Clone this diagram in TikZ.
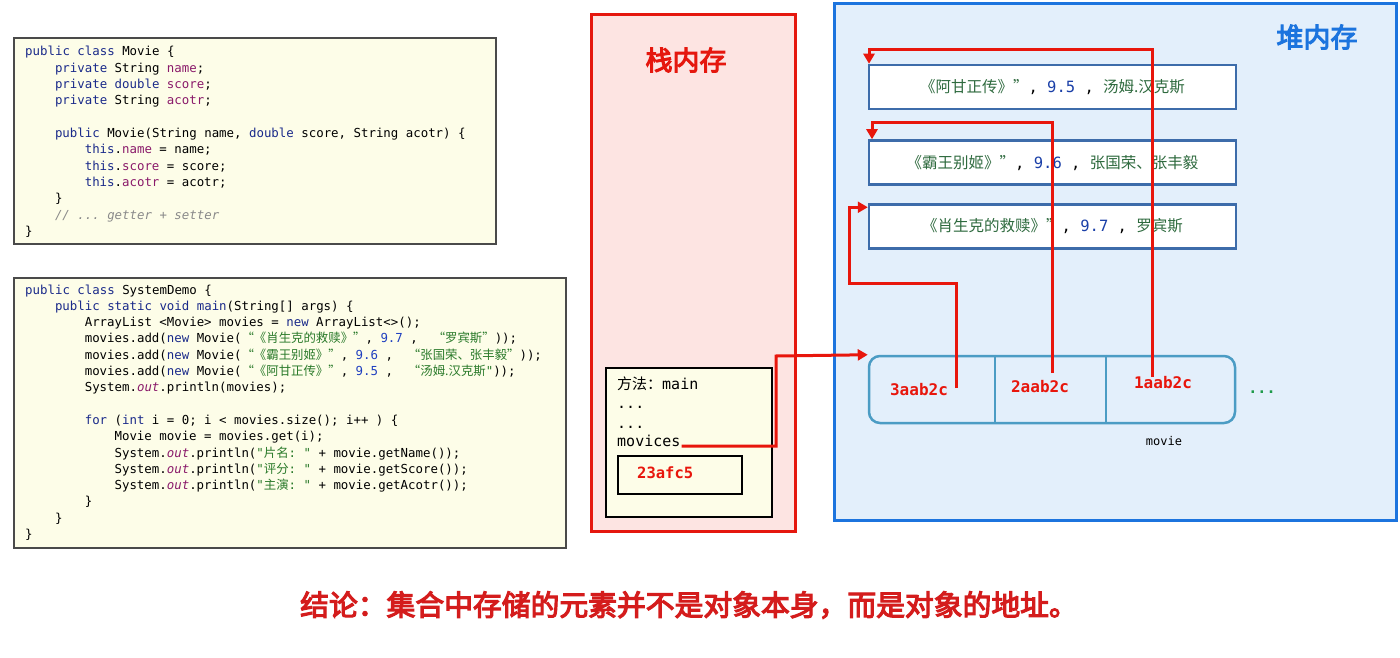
\documentclass[tikz,border=0pt]{standalone}
\usepackage{fontspec}
\setmonofont{DejaVu Sans Mono}
\newfontfamily\cjk{Noto Sans CJK SC}
\newfontfamily\cjkbold[FakeBold=4]{Noto Sans CJK SC}
\usetikzlibrary{arrows.meta}
\definecolor{kw}{HTML}{1A2A8A}
\definecolor{fld}{HTML}{8A1A6A}
\definecolor{str}{HTML}{2A7A2A}
\definecolor{num}{HTML}{1F3FC0}
\definecolor{cmt}{HTML}{8A8A8A}
\definecolor{codebg}{HTML}{FDFDE8}
\definecolor{codeframe}{HTML}{4A4A4A}
\definecolor{stackred}{HTML}{E5170E}
\definecolor{stackbg}{HTML}{FDE4E2}
\definecolor{heapblue}{HTML}{1C74DE}
\definecolor{heapbg}{HTML}{E3EFFB}
\definecolor{objblue}{HTML}{3D6CAA}
\definecolor{arrblue}{HTML}{4B9CC4}
\definecolor{heapgreen}{HTML}{2E6A3E}
\definecolor{numblue}{HTML}{1A3FA8}
\definecolor{dotgreen}{HTML}{1E9A4A}
\definecolor{concl}{HTML}{D41C1C}
\definecolor{refred}{HTML}{E8160C}
\newcommand\Kw[1]{\textcolor{kw}{#1}}
\newcommand\Fd[1]{\textcolor{fld}{#1}}
\newcommand\Sg[1]{\textcolor{str}{#1}}
\newcommand\Nm[1]{\textcolor{num}{#1}}
\newcommand\Cj[1]{{\cjk #1}}
\newcommand\Ot{\textcolor{fld}{\itshape out}}
\newcommand\Hg[1]{\textcolor{heapgreen}{\cjk #1}}
\newcommand\Hn[1]{\textcolor{numblue}{#1}}
\tikzset{
  code/.style={font=\ttfamily\fontsize{12.4}{15}\selectfont, inner sep=0pt, anchor=base west},
  codebox/.style={draw=codeframe, line width=1.2pt, fill=codebg},
  objbox/.style={draw=objblue, line width=2.5pt, fill=white, minimum width=367pt, minimum height=44pt, inner sep=0pt,
    font=\ttfamily\fontsize{15.5}{18}\selectfont},
  addr/.style={text=refred, font=\ttfamily\bfseries\fontsize{16}{18}\selectfont, inner sep=0pt},
  frametxt/.style={font=\ttfamily\fontsize{15}{18}\selectfont, inner sep=0pt, anchor=base west},
  ref/.style={draw=refred, line width=3pt, -{Triangle[length=10pt,width=11pt]}},
}
\begin{document}
\begin{tikzpicture}[x=1pt,y=-1pt]
\useasboundingbox (0,0) rectangle (1400,658);
\fill[white] (0,0) rectangle (1400,658);

% ---------- code box 1 ----------
\draw[codebox] (14,38) rectangle (496,244);
\node[code] (a1) at (25,56) {\Kw{public class} Movie \{};
\node[code] (a2) at (54.8,72.3) {\Kw{private} String \Fd{name};};
\node[code] (a3) at (54.8,88.6) {\Kw{private double} \Fd{score};};
\node[code] (a4) at (54.8,104.9) {\Kw{private} String \Fd{acotr};};
\node[code] (a5) at (54.8,137.5) {\Kw{public} Movie(String name, \Kw{double} score, String acotr) \{};
\node[code] (a6) at (84.6,153.8) {\Kw{this}.\Fd{name} = name;};
\node[code] (a7) at (84.6,170.1) {\Kw{this}.\Fd{score} = score;};
\node[code] (a8) at (84.6,186.4) {\Kw{this}.\Fd{acotr} = acotr;};
\node[code] (a9) at (54.8,202.7) {\}};
\node[code] (a10) at (54.8,219) {\textcolor{cmt}{\itshape // ... getter + setter}};
\node[code] (a11) at (25,235.3) {\}};

% ---------- code box 2 ----------
\draw[codebox] (14,278) rectangle (566,548);
\node[code] (b1) at (25,294) {\Kw{public class} SystemDemo \{};
\node[code] (b2) at (54.8,310.3) {\Kw{public static void main}(String[] args) \{};
\node[code] (b3) at (84.6,326.6) {ArrayList <Movie> movies = \Kw{new} ArrayList<>();};
\node[code] (b4) at (84.6,342.9) {movies.add(\Kw{new} Movie(\Sg{\Cj{“《肖生克的救赎》”}}, \Nm{9.7} ,\ \ \Sg{\Cj{“罗宾斯”}}));};
\node[code] (b5) at (84.6,359.2) {movies.add(\Kw{new} Movie(\Sg{\Cj{“《霸王别姬》”}}, \Nm{9.6} ,\ \ \Sg{\Cj{“张国荣、张丰毅”}}));};
\node[code] (b6) at (84.6,375.5) {movies.add(\Kw{new} Movie(\Sg{\Cj{“《阿甘正传》”}}, \Nm{9.5} ,\ \ \Sg{\Cj{“汤姆.汉克斯}"}));};
\node[code] (b7) at (84.6,391.8) {System.\Ot.println(movies);};
\node[code] (b8) at (84.6,424.4) {\Kw{for} (\Kw{int} i = 0; i < movies.size(); i++ ) \{};
\node[code] (b9) at (114.4,440.7) {Movie movie = movies.get(i);};
\node[code] (b10) at (114.4,457) {System.\Ot.println(\Sg{"\Cj{片名}: "} + movie.getName());};
\node[code] (b11) at (114.4,473.3) {System.\Ot.println(\Sg{"\Cj{评分}: "} + movie.getScore());};
\node[code] (b12) at (114.4,489.6) {System.\Ot.println(\Sg{"\Cj{主演}: "} + movie.getAcotr());};
\node[code] (b13) at (84.6,505.9) {\}};
\node[code] (b14) at (54.8,522.2) {\}};
\node[code] (b15) at (25,538.5) {\}};

% ---------- stack ----------
\draw[draw=stackred, line width=3pt, fill=stackbg] (591,15) rectangle (795,531);
\node[text=stackred, font=\cjkbold\fontsize{27}{30}\selectfont] (stacktitle) at (686,60) {栈内存};
\draw[draw=black, line width=1.2pt, fill=codebg] (606,368) rectangle (772,517);
\node[frametxt] (meth) at (617,389) {\Cj{方法：}main};
\node[frametxt] (dots1) at (617,408) {...};
\node[frametxt] (dots2) at (617,428) {...};
\node[frametxt] (mov) at (617,446) {movices};
\node[draw=black, line width=1.2pt, minimum width=124pt, minimum height=38pt, inner sep=0pt] (addrbox) at (680,475) {};
\node[addr, anchor=west, font=\ttfamily\bfseries\fontsize{15.5}{18}\selectfont] (addrtxt) at (637,473) {23afc5};

% ---------- heap ----------
\draw[draw=heapblue, line width=3pt, fill=heapbg] (834,4) rectangle (1396,520);
\node[text=heapblue, font=\cjkbold\fontsize{27}{30}\selectfont] (heaptitle) at (1317,37) {堆内存};

\node[objbox] (m1) at (1052.5,87) {\Hg{《阿甘正传》”}, \Hn{9.5} , \Hg{汤姆.汉克斯}};
\node[objbox] (m2) at (1052.5,162.5) {\Hg{《霸王别姬》”}, \Hn{9.6} , \Hg{张国荣、张丰毅}};
\node[objbox] (m3) at (1052.5,226.5) {\Hg{《肖生克的救赎》”}, \Hn{9.7} , \Hg{罗宾斯}};

\node[draw=arrblue, line width=2.5pt, fill=heapbg, rounded corners=11pt, minimum width=366pt, minimum height=67pt, inner sep=0pt] (arr) at (1052,389.5) {};
\draw[draw=arrblue, line width=2.5pt] (arr.north -| 995,0) -- (arr.south -| 995,0);
\draw[draw=arrblue, line width=2.5pt] (arr.north -| 1106,0) -- (arr.south -| 1106,0);
\node[addr] (l3) at (919,390) {3aab2c};
\node[addr] (l2) at (1040,387) {2aab2c};
\node[addr] (l1) at (1163,383) {1aab2c};
\node[text=dotgreen, font=\ttfamily\bfseries\fontsize{15}{18}\selectfont, inner sep=0pt] (more) at (1262,392) {...};
\node[font=\ttfamily\fontsize{12}{14}\selectfont, inner sep=0pt] (movlbl) at (1164,441) {movie};

% ---------- references ----------
\coordinate (j0) at (776,356);
\coordinate (s3) at (956,388);
\coordinate (c3) at (849,283);
\coordinate (s2) at (1052,373);
\coordinate (c2) at (872,123);
\coordinate (s1) at (1152,377);
\coordinate (c1) at (869,50);
\draw[ref] ([xshift=1pt]mov.base east) -| (j0) -- (arr.north west);
\draw[ref] (s3) |- (c3) |- ([yshift=-4pt]m3.north west);
\draw[ref] (s2) |- (c2) -- (c2 |- m2.north);
\draw[ref] (s1) |- (c1) -- (c1 |- m1.north);

% ---------- conclusion ----------
\node[text=concl, font=\cjkbold\fontsize{28.8}{32}\selectfont] (concl) at (689,605) {结论：集合中存储的元素并不是对象本身，而是对象的地址。};
\end{tikzpicture}
\end{document}
